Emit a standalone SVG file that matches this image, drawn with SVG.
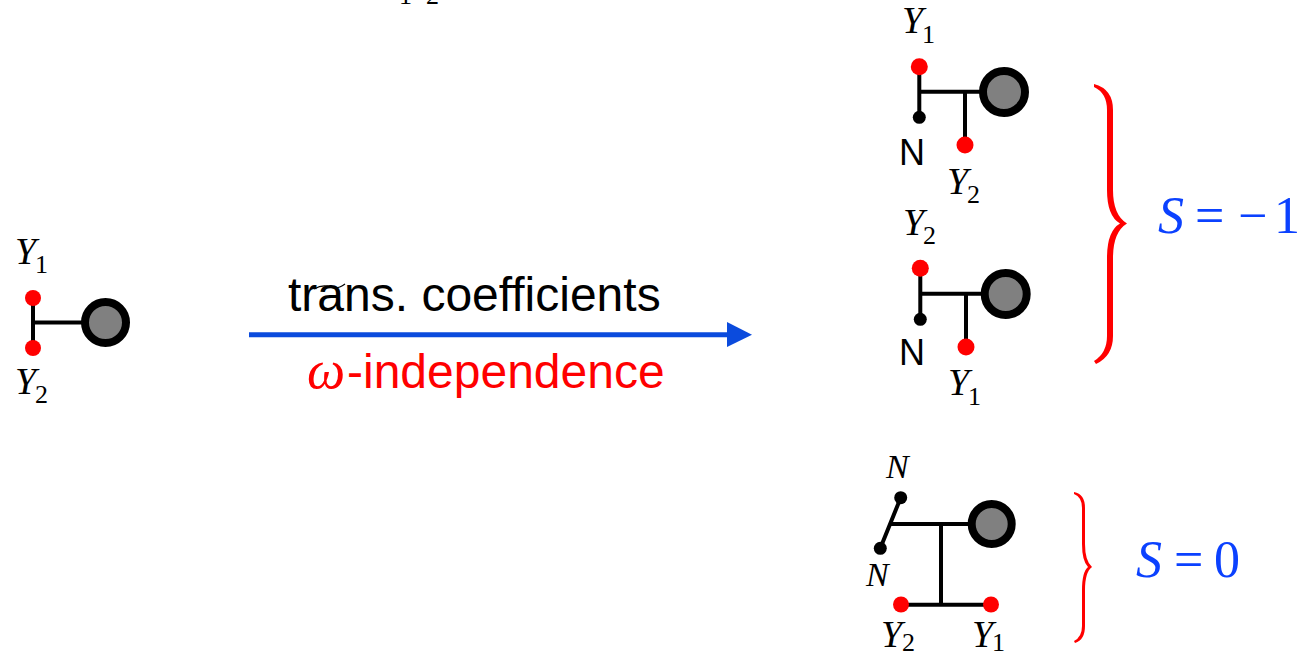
<svg xmlns="http://www.w3.org/2000/svg" width="1299" height="653" viewBox="0 0 1299 653">
<style>
.l{stroke:#000;stroke-width:4;fill:none}
.hub{fill:#808080;stroke:#000;stroke-width:8}
.r{fill:#ff0000}
.k{fill:#000}
.y{font-family:"Liberation Serif",serif;font-style:italic;font-size:38px;fill:#000}
.s{font-family:"Liberation Serif",serif;font-size:26px;fill:#000}
.n{font-family:"Liberation Sans",sans-serif;font-size:36px;fill:#000}
.m{font-family:"Liberation Serif",serif;font-size:52px;fill:#0b41ff}
.i{font-style:italic}
.cm{font-size:34px}
</style>
<rect width="1299" height="653" fill="#fff"/>
<g id="clipped-top"><text class="s" x="399" y="4">1</text><text class="s" x="426" y="4">2</text></g>
<g id="connectors">
<path class="l" d="M33 298V348M33 322.500H85"/>
<path class="l" d="M919.300 67V117M919.300 91.700H985M965 91.700V145"/>
<path class="l" d="M920.300 268V319M920.300 293.700H987M966 293.700V347"/>
<path class="l" d="M900.700 497.700L880.300 548.300M891 524H972M941 524V604.700M901 604.700H991"/>
<path d="M249 334.700H730" stroke="#0b4bdd" stroke-width="5" fill="none"/>
<path d="M727 322L752 334.700L727 347Z" fill="#0b4bdd"/>
<path d="M314 289Q323 284 330 287T345 284" stroke="#000" stroke-width="1.300" fill="none"/>
</g>
<g id="node-source">
<circle class="r" cx="33" cy="298" r="8"/><circle class="r" cx="33" cy="348" r="8"/>
<circle class="hub" cx="105.500" cy="322.500" r="20.500"/>
<text class="y" x="15" y="264">Y</text><text class="s" x="35" y="273">1</text>
<text class="y" x="15" y="394">Y</text><text class="s" x="35" y="403">2</text>
</g>
<g id="node-a">
<circle class="r" cx="919.300" cy="66.700" r="8.500"/><circle class="k" cx="919.300" cy="117.300" r="6.500"/><circle class="r" cx="965" cy="145" r="8.500"/>
<circle class="hub" cx="1004" cy="92" r="21"/>
<text class="y" x="902" y="33">Y</text><text class="s" x="922" y="43">1</text>
<text class="n" x="899" y="165">N</text>
<text class="y" x="947" y="194">Y</text><text class="s" x="967" y="203">2</text>
</g>
<g id="node-b">
<circle class="r" cx="920.300" cy="268.300" r="8.500"/><circle class="k" cx="920.300" cy="319.300" r="6.500"/><circle class="r" cx="966" cy="347" r="8.500"/>
<circle class="hub" cx="1005.700" cy="294" r="21"/>
<text class="y" x="903" y="235">Y</text><text class="s" x="923" y="244">2</text>
<text class="n" x="899" y="365">N</text>
<text class="y" x="948" y="395">Y</text><text class="s" x="968" y="405">1</text>
</g>
<g id="node-c">
<circle class="r" cx="901" cy="604.500" r="8"/><circle class="r" cx="991" cy="604.500" r="8"/>
<circle class="k" cx="900.700" cy="497.700" r="6.500"/><circle class="k" cx="880.300" cy="548.300" r="6.500"/>
<circle class="hub" cx="991.700" cy="524" r="20"/>
<text class="y cm" x="886" y="478">N</text><text class="y cm" x="866" y="586">N</text>
<text class="y" x="881" y="647">Y</text><text class="s" x="902" y="651">2</text>
<text class="y" x="972" y="647">Y</text><text class="s" x="992" y="651">1</text>
</g>
<g id="arrow-labels">
<text x="288" y="311" font-family="'Liberation Sans',sans-serif" font-size="48" fill="#000">trans. coefficients</text>
<text y="388" font-size="48" fill="#ff0000" font-family="'Liberation Sans',sans-serif"><tspan x="307" font-family="'Liberation Serif',serif" font-style="italic" font-size="54">ω</tspan><tspan x="347">-independence</tspan></text>
</g>
<g id="brace-1">
<path class="r" d="M1094 84Q1113 89 1113 110V190Q1113 215 1127 223.500Q1113 232 1113 258V336Q1113 356 1096 364L1094 361Q1107 353 1107 336V258Q1107 231 1120 223.500Q1107 216 1107 190V110Q1107 93 1094 87Z"/>
<text class="m" y="233"><tspan class="i" x="1158">S</tspan><tspan x="1195">=</tspan><tspan x="1238">−</tspan><tspan x="1274">1</tspan></text>
</g>
<g id="brace-2">
<path class="r" d="M1074 492Q1085 494 1085 508V544Q1085 561 1092 567Q1085 572 1085 590V626Q1085 640 1075 643L1074 641Q1082 637 1082 626V590Q1082 572 1088 567Q1082 561 1082 544V508Q1082 497 1074 494Z"/>
<text class="m" y="577"><tspan class="i" x="1136">S</tspan><tspan x="1174">=</tspan><tspan x="1214">0</tspan></text>
</g>
</svg>
